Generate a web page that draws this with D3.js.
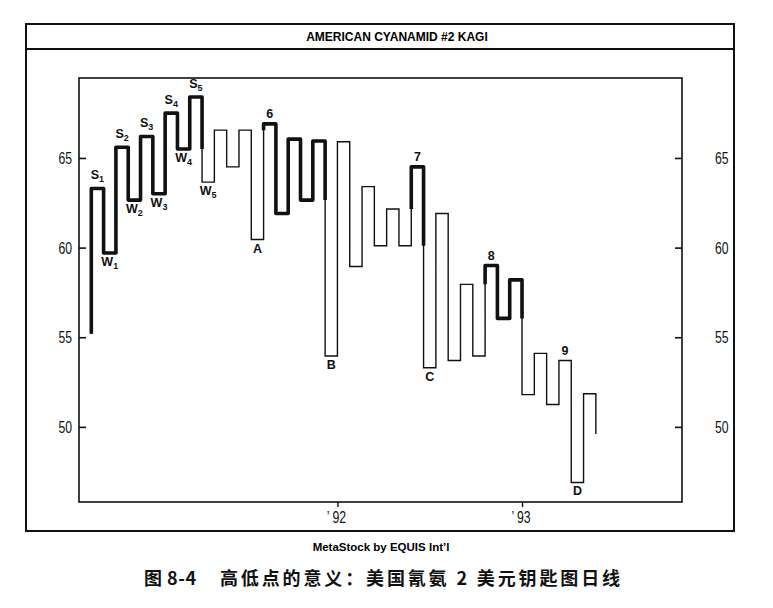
<!DOCTYPE html>
<html lang="zh">
<head>
<meta charset="UTF-8">
<title>American Cyanamid Kagi</title>
<script src="https://cdnjs.cloudflare.com/ajax/libs/d3/7.8.5/d3.min.js"></script>
<style>
  body { margin: 0; background: #fff; }
  svg { display: block; }
  .frame { fill: none; stroke: #111; }
  .ylab { font-family: "Liberation Sans", Arial, sans-serif; font-size: 17px; fill: #111; }
  .mark { font-family: "Liberation Sans", Arial, sans-serif; font-weight: bold; font-size: 12.5px; fill: #111; }
</style>
</head>
<body>
<svg width="773" height="608"></svg>
<script>
// kagi turning levels: start price, then each shoulder / waist, then last price
const levels = [55.2,
  63.3, 59.7, 65.6, 62.65, 66.2, 63.0, 67.5, 65.5, 68.4, 63.65,
  66.55, 64.5, 66.55, 60.45, 66.9, 61.9, 66.05, 62.65, 65.95, 53.95,
  65.9, 58.95, 63.4, 60.1, 62.15, 60.1, 64.5, 53.3, 61.9, 53.7,
  57.95, 53.95, 59.0, 56.05, 58.2, 51.8, 54.1, 51.25, 53.7, 46.9,
  51.85, 49.6];
const yTicks = [50, 55, 60, 65];
const xTickIdx = [20, 35];
const xTickLabels = ["\u2019 92", "\u2019 93"];
// labels sit on the horizontal after vertical k
const labelSeg  = [0, 1, 2, 3, 4, 5, 6, 7, 8, 9, 13, 14, 19, 26, 27, 32, 38, 39];
const labelMain = ["S","W","S","W","S","W","S","W","S","W","A","6","B","7","C","8","9","D"];
const labelSub  = ["1","1","2","2","3","3","4","4","5","5","","","","","","","",""];

const svg = d3.select("svg");
const L = 79, R = 682, T = 78, B = 502;

const x = d3.scaleLinear().domain([-1, 48]).range([L, R]);
const y = d3.scaleLinear().domain([45.81, 69.46]).range([B, T]);

// outer frame and title bar
svg.append("rect").attr("class", "frame").attr("x", 26).attr("y", 24)
  .attr("width", 708).attr("height", 507).attr("stroke-width", 2);
svg.append("line").attr("x1", 26).attr("x2", 734).attr("y1", 49).attr("y2", 49)
  .attr("stroke", "#111").attr("stroke-width", 2);
svg.append("text").attr("x", 397).attr("y", 41).attr("text-anchor", "middle")
  .attr("font-family", "Liberation Sans, Arial, sans-serif").attr("font-weight", "bold")
  .attr("font-size", 12).text("AMERICAN CYANAMID #2 KAGI");

// plot box
svg.append("rect").attr("class", "frame").attr("x", L).attr("y", T)
  .attr("width", R - L).attr("height", B - T).attr("stroke-width", 1.6);

// axes
const yl = svg.append("g").attr("transform", `translate(${L},0)`)
  .call(d3.axisRight(y).tickValues(yTicks).tickSize(7).tickFormat(""));
const yr = svg.append("g").attr("transform", `translate(${R},0)`)
  .call(d3.axisLeft(y).tickValues(yTicks).tickSize(7).tickFormat(""));
[yl, yr].forEach(g => {
  g.select(".domain").remove();
  g.selectAll(".tick line").attr("stroke", "#111").attr("stroke-width", 1.6);
});
// condensed tall labels
svg.selectAll(".ylabL").data(yTicks).enter().append("text").attr("class", "ylab")
  .attr("transform", d => `translate(72,${y(d) + 6}) scale(0.72,1)`)
  .attr("text-anchor", "end").text(d => d);
svg.selectAll(".ylabR").data(yTicks).enter().append("text").attr("class", "ylab")
  .attr("transform", d => `translate(715,${y(d) + 6}) scale(0.72,1)`).text(d => d);

const xa = svg.append("g").attr("transform", `translate(0,${B})`)
  .call(d3.axisBottom(x).tickValues(xTickIdx).tickSize(5).tickFormat(""));
xa.select(".domain").remove();
xa.selectAll(".tick line").attr("stroke", "#111").attr("stroke-width", 1.4);
svg.selectAll(".xlab").data(xTickIdx).enter().append("text").attr("class", "ylab")
  .attr("transform", d => `translate(${x(d) - 1},523) scale(0.72,1)`)
  .attr("text-anchor", "middle").attr("font-size", 16).text((d, i) => xTickLabels[i]);

// build kagi segments with yang (thick) / yin (thin) state
const segs = [];
let yang = true, prevHigh = null, prevLow = null;
for (let k = 0; k < levels.length - 1; k++) {
  const a = levels[k], b = levels[k + 1];
  if (b > a) {
    if (!yang && prevHigh !== null && b > prevHigh) {
      segs.push({x1: k, y1: a, x2: k, y2: prevHigh, thick: false});
      segs.push({x1: k, y1: prevHigh, x2: k, y2: b, thick: true});
      yang = true;
    } else segs.push({x1: k, y1: a, x2: k, y2: b, thick: yang});
    prevHigh = b;
  } else {
    if (yang && prevLow !== null && b < prevLow) {
      segs.push({x1: k, y1: a, x2: k, y2: prevLow, thick: true});
      segs.push({x1: k, y1: prevLow, x2: k, y2: b, thick: false});
      yang = false;
    } else segs.push({x1: k, y1: a, x2: k, y2: b, thick: yang});
    prevLow = b;
  }
  if (k < levels.length - 2) segs.push({x1: k, y1: b, x2: k + 1, y2: b, thick: yang});
}

// group consecutive thick segments into runs
const thickRuns = [];
let run = null;
segs.forEach(s => {
  if (s.thick) {
    if (!run) { run = [[s.x1, s.y1]]; thickRuns.push(run); }
    run.push([s.x2, s.y2]);
  } else run = null;
});
const allPts = [[segs[0].x1, segs[0].y1]].concat(segs.map(s => [s.x2, s.y2]));

const line = d3.line().x(d => x(d[0])).y(d => y(d[1]));
svg.append("path").attr("d", line(allPts)).attr("fill", "none")
  .attr("stroke", "#111").attr("stroke-width", 1.4).attr("stroke-linejoin", "miter");
svg.selectAll(".thick").data(thickRuns).enter().append("path")
  .attr("d", line).attr("fill", "none").attr("stroke", "#111")
  .attr("stroke-width", 3.6).attr("stroke-linejoin", "round").attr("stroke-linecap", "butt");

// point labels
labelSeg.forEach((k, i) => {
  const v = levels[k + 1], up = v > levels[k];
  const sub = labelSub[i];
  const t = svg.append("text").attr("class", "mark").attr("text-anchor", "middle")
    .attr("x", x(k + 0.5))
    .attr("y", up ? y(v) - (sub ? 9 : 6) : y(v) + 13);
  t.append("tspan").text(labelMain[i]);
  if (sub) t.append("tspan").attr("font-size", 9).attr("dy", 3).text(sub);
});

// credits and caption
svg.append("text").attr("x", 381).attr("y", 551).attr("text-anchor", "middle")
  .attr("font-family", "Liberation Sans, Arial, sans-serif").attr("font-weight", "bold")
  .attr("font-size", 11.5).text("MetaStock by EQUIS Int\u2019l");
const cap = svg.append("g").attr("font-family", "Noto Sans CJK SC, sans-serif")
  .attr("font-weight", "bold").attr("font-size", 18).attr("fill", "#111");
cap.append("text").attr("x", 144).attr("y", 585).attr("textLength", 52)
  .attr("lengthAdjust", "spacing").text("图 8-4");
cap.append("text").attr("x", 220).attr("y", 585).attr("textLength", 400)
  .attr("lengthAdjust", "spacing").text("高低点的意义：美国氰氨 2 美元钥匙图日线");
</script>
</body>
</html>
